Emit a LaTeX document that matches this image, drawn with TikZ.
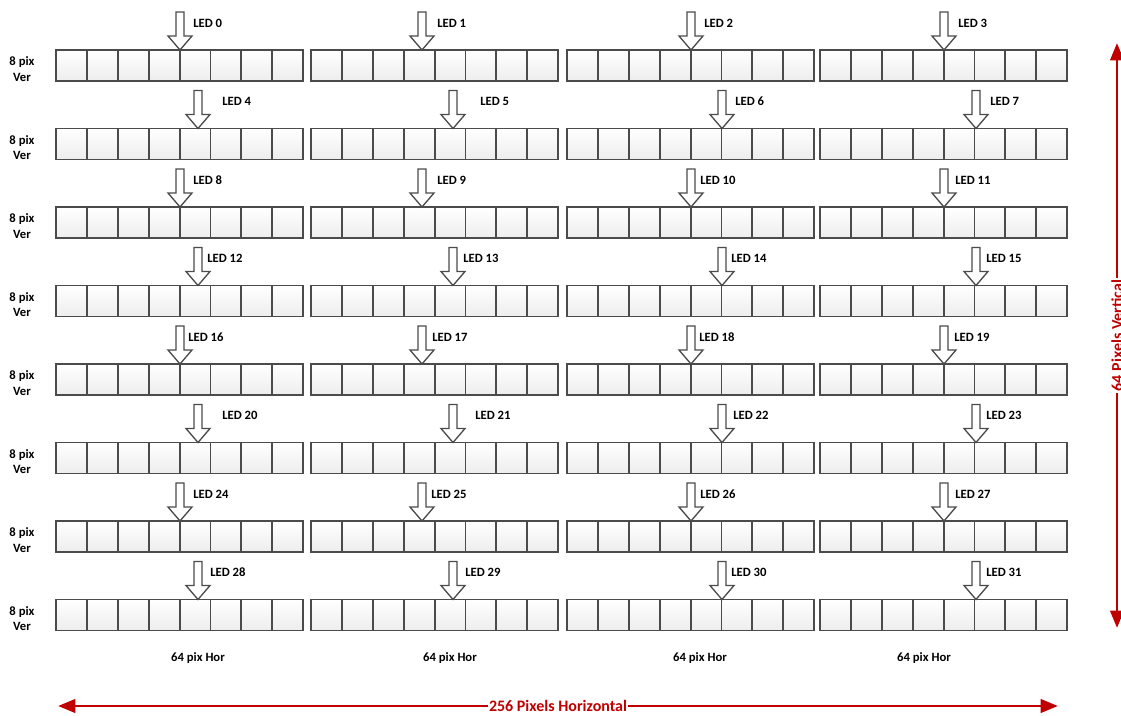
\documentclass[tikz,border=0pt]{standalone}
\usepackage{fontspec}
\setmainfont{Carlito}
\usepackage{tikz}
\usetikzlibrary{arrows.meta}
\definecolor{darkred}{RGB}{192,0,0}
\definecolor{edge}{RGB}{75,75,75}
\tikzset{
  pixelfill/.style={top color=white, bottom color=gray!14},
  pixelline/.style={draw=edge, line width=1.4pt},
  ledarrow/.style={draw=edge, line width=1pt, fill=white},
  ledlabel/.style={anchor=west, inner sep=0pt, font=\fontsize{9.5}{11}\selectfont\bfseries},
  sidelabel/.style={align=center, inner sep=0pt, font=\fontsize{9.5}{11.5}\selectfont\bfseries},
  redarrow/.style={{Triangle[length=13pt,width=10pt]}-{Triangle[length=13pt,width=10pt]}, draw=darkred, line width=2.2pt},
  redlabel/.style={fill=white, text=darkred, inner sep=1pt, font=\fontsize{12}{14}\selectfont\bfseries},
  pics/blockarrow/.style={code={
    \draw[ledarrow] (-4,-38) -- (4,-38) -- (4,-14) -- (12,-14) -- (0,0) -- (-12,-14) -- (-4,-14) -- cycle;
  }},
}

\begin{document}
\begin{tikzpicture}[x=0.75pt, y=-0.75pt]
  \useasboundingbox (0,0) rectangle (1121,716);

  % rows of 4 modules, 8 pixels each
  \foreach \r in {0,...,7} {
    \pgfmathsetmacro{\rowtop}{50+78.5*\r}
    \foreach \m in {56,311,567,820} {
      \shade[pixelfill] (\m,\rowtop) rectangle ++(247,31);
      \foreach \c in {1,...,7}
        \draw[pixelline] (\m+30.9*\c,\rowtop) -- ++(0,31);
      \draw[pixelline] (\m,\rowtop) rectangle ++(247,31);
    }
    \node[sidelabel] (side\r) at (22,\rowtop+19) {8 pix\\Ver};
  }

  % LED inputs: number / arrow x / label x
  \foreach \n/\ax/\lx in {0/180/193, 1/422/437, 2/691/704, 3/944/958,
                          4/198/222, 5/453/480, 6/722/735, 7/976/990,
                          8/180/193, 9/422/437, 10/691/700, 11/944/955,
                          12/198/207, 13/453/463, 14/722/731, 15/976/986,
                          16/180/188, 17/422/432, 18/691/699, 19/944/954,
                          20/198/222, 21/453/475, 22/722/733, 23/976/986,
                          24/180/193, 25/422/431, 26/691/700, 27/944/955,
                          28/198/210, 29/453/465, 30/722/731, 31/976/986} {
    \pgfmathsetmacro{\rowtop}{50+78.5*int(\n/4)}
    \pic at (\ax,\rowtop) {blockarrow};
    \node[ledlabel] (led\n) at (\lx,\rowtop-27) {LED \n};
  }

  \foreach \hx [count=\k] in {198,450,700,924}
    \node[sidelabel] (hor\k) at (\hx,658) {64 pix Hor};

  % overall size
  \coordinate (hleft) at (58,706);
  \coordinate (hright) at (1058,706);
  \draw[redarrow] (hleft) -- node[redlabel] (hlabel) {256 Pixels Horizontal} (hright);

  \coordinate (vtop) at (1117,43);
  \coordinate (vbottom) at (1117,628);
  \draw[redarrow] (vtop) -- node[redlabel, rotate=90] (vlabel) {64 Pixels Vertical} (vbottom);
\end{tikzpicture}
\end{document}
